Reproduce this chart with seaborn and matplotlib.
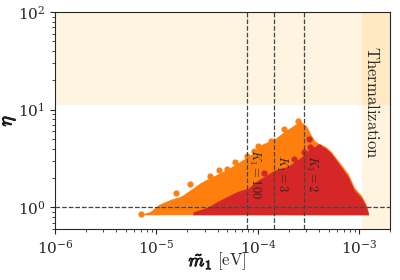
import numpy as np
import pandas as pd
import matplotlib
matplotlib.use("Agg")
import matplotlib.pyplot as plt
import matplotlib.patheffects as pe
import seaborn as sns

# bordo superiore della regione arancione (m1 in eV, eta)
m_arancio = [7.08e-6, 8.71e-6, 1.05e-5, 1.38e-5, 1.74e-5, 2.19e-5, 2.75e-5, 3.63e-5, 5.01e-5,
             7.24e-5, 8.91e-5, 1.07e-4, 1.45e-4, 1.82e-4, 2.29e-4, 2.63e-4, 3.02e-4, 3.31e-4,
             3.63e-4, 3.98e-4, 4.57e-4, 5.25e-4, 6.61e-4, 7.76e-4, 8.91e-4, 1.05e-3, 1.17e-3,
             1.23e-3]
eta_arancio = [0.85, 0.91, 1.07, 1.21, 1.30, 1.53, 1.81, 2.09, 2.46,
               3.12, 3.6, 4.4, 5.0, 6.0, 7.0, 7.6, 6.8, 5.6,
               4.8, 4.5, 4.25, 3.75, 2.75, 2.2, 1.6, 1.32, 1.06,
               0.86]

# bordo superiore della regione rossa
m_rosso = [2.29e-5, 3.16e-5, 3.98e-5, 5.01e-5, 6.31e-5, 7.94e-5, 1.0e-4, 1.45e-4, 2.0e-4,
           2.69e-4, 3.31e-4, 3.98e-4, 4.57e-4, 5.25e-4, 6.61e-4, 7.76e-4, 8.91e-4, 1.05e-3,
           1.17e-3, 1.23e-3]
eta_rosso = [0.9, 1.0, 1.15, 1.30, 1.46, 1.57, 1.9, 2.4, 2.65,
             3.3, 4.1, 4.3, 4.1, 3.6, 2.6, 2.05, 1.5, 1.25,
             1.02, 0.86]
eta_fondo = 0.84

# punti isolati
m_punti_arancio = [7.1e-6, 1.55e-5, 2.14e-5, 3.39e-5, 4.17e-5, 5.0e-5, 6.0e-5, 7.8e-5,
                   9.1e-5, 1.0e-4, 1.35e-4, 1.82e-4, 2.5e-4]
eta_punti_arancio = [0.85, 1.39, 1.73, 2.09, 2.4, 2.5, 2.9, 3.35,
                     3.78, 4.25, 4.8, 6.4, 7.7]
m_punti_rosso = [1.15e-4, 2.24e-4, 2.82e-4, 3.24e-4, 3.98e-4, 3.16e-4]
eta_punti_rosso = [2.24, 3.1, 3.7, 4.15, 4.15, 5.0]

# linee verticali e etichette K1
m_linee = [7.8e-5, 1.44e-4, 2.85e-4]
etichette_k = [r"$K_1=100$", r"$K_1=3$", r"$K_1=2$"]
m_etichette = [9.3e-5, 1.7e-4, 3.35e-4]
eta_etichette = 2.2

sns.set_style("ticks")
plt.rcParams["mathtext.fontset"] = "cm"
plt.rcParams["font.family"] = ["DejaVu Serif"]

fig = plt.figure(figsize=(4, 2.8), dpi=100)
ax = fig.add_axes([0.1375, 0.182, 0.8375, 0.775])

ax.axhspan(11.3, 100, color="orange", alpha=0.12, lw=0)
ax.axvspan(1.07e-3, 2e-3, color="orange", alpha=0.12, lw=0)

ax.fill_between(m_arancio, eta_fondo, eta_arancio, color="#ff7f0e", lw=0)
sns.scatterplot(x=m_punti_arancio, y=eta_punti_arancio, color="#ff7f0e", s=20,
                linewidth=0, ax=ax)
ax.fill_between(m_rosso, eta_fondo, eta_rosso, color="#d62728", lw=0)
sns.scatterplot(x=m_punti_rosso, y=eta_punti_rosso, color="#d62728", s=20,
                linewidth=0, ax=ax)

for m in m_linee:
    ax.axvline(m, color="#444444", ls="--", lw=0.9)
ax.axhline(1, color="#444444", ls="--", lw=0.9)

for m, t in zip(m_etichette, etichette_k):
    ax.text(m, eta_etichette, t, rotation=270, ha="center", va="center", fontsize=9)
ax.text(1.3e-3, 11.8, r"$\mathrm{Thermalization}$", rotation=270, ha="center",
        va="center", fontsize=12)

ax.set_xscale("log")
ax.set_yscale("log")
ax.set_xlim(1e-6, 2e-3)
ax.set_ylim(0.6, 100)
grassetto = [pe.withStroke(linewidth=0.7, foreground="black")]
# etichetta x: parte in grassetto e unita' separata
ax.text(0.47, -0.15, r"$\tilde{m}_1$", transform=ax.transAxes, ha="right", va="center",
        fontsize=13, path_effects=grassetto)
ax.text(0.485, -0.15, r"$[\mathrm{eV}]$", transform=ax.transAxes, ha="left", va="center",
        fontsize=12)
ax.set_ylabel(r"$\eta$", fontsize=14)
ax.yaxis.set_label_coords(-0.11, 0.5)
ax.yaxis.label.set_path_effects(grassetto)
ax.tick_params(labelsize=11)

fig.savefig("out.png", dpi=100)
